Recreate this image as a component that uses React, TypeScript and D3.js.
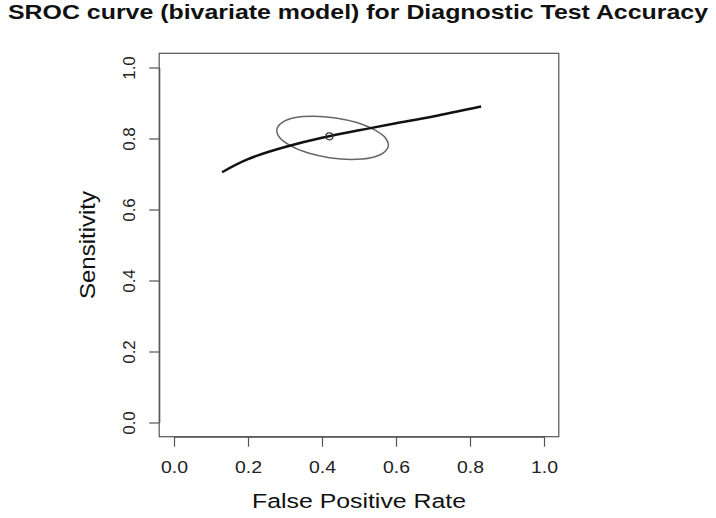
import React, { useEffect, useRef } from 'react';
import * as d3 from 'd3';

// SROC curve (false positive rate, sensitivity)
const curveFpr = [0.13, 0.2, 0.3, 0.4, 0.5, 0.6, 0.7, 0.83];
const curveSens = [0.705, 0.742, 0.776, 0.802, 0.823, 0.843, 0.862, 0.89];

// summary point
const summaryFpr = [0.42];
const summarySens = [0.806];

// confidence region outline
const regionFpr = [0.579, 0.565, 0.529, 0.479, 0.42, 0.363, 0.316, 0.286, 0.278, 0.292, 0.328, 0.378, 0.437, 0.494, 0.541, 0.571];
const regionSens = [0.778, 0.759, 0.745, 0.741, 0.746, 0.759, 0.779, 0.802, 0.826, 0.845, 0.859, 0.863, 0.858, 0.845, 0.825, 0.802];

const xTicks = [0, 0.2, 0.4, 0.6, 0.8, 1];
const yTicks = [0, 0.2, 0.4, 0.6, 0.8, 1];

const title = 'SROC curve (bivariate model) for Diagnostic Test Accuracy';
const xLabel = 'False Positive Rate';
const yLabel = 'Sensitivity';

const App = () => {
    const ref = useRef<SVGSVGElement>(null);

    useEffect(() => {
        const svg = d3.select(ref.current);
        svg.selectAll('*').remove();

        const font = '"Liberation Sans", Arial, sans-serif';
        const grey = '#555';

        const x = d3.scaleLinear().domain([0, 1]).range([174, 544]);
        const y = d3.scaleLinear().domain([0, 1]).range([422.5, 67.5]);

        // R-style 4% extension for the box
        const x0 = x(-0.04), x1 = x(1.04);
        const y0 = y(-0.04), y1 = y(1.04);

        svg.append('text')
            .attr('x', 358)
            .attr('y', 19)
            .attr('text-anchor', 'middle')
            .attr('font-family', font)
            .attr('font-weight', 'bold')
            .attr('font-size', 21)
            .attr('textLength', 700)
            .attr('lengthAdjust', 'spacingAndGlyphs')
            .attr('fill', '#111')
            .text(title);

        svg.append('rect')
            .attr('x', x0)
            .attr('y', y1)
            .attr('width', x1 - x0)
            .attr('height', y0 - y1)
            .attr('fill', 'none')
            .attr('stroke', grey)
            .attr('stroke-width', 1.2);

        const xAxis = svg.append('g')
            .attr('transform', `translate(0,${y0})`)
            .call(d3.axisBottom(x).tickValues(xTicks).tickSize(10).tickSizeOuter(0).tickFormat(d3.format('.1f')));
        xAxis.select('.domain').attr('stroke', grey).attr('stroke-width', 1.2);
        xAxis.selectAll('line').attr('stroke', grey).attr('stroke-width', 1.2);
        xAxis.selectAll('text')
            .attr('y', 36)
            .attr('dy', 0)
            .attr('font-family', font)
            .attr('font-size', 17)
            .attr('textLength', 27)
            .attr('lengthAdjust', 'spacingAndGlyphs')
            .attr('fill', '#222');

        const yAxis = svg.append('g')
            .attr('transform', `translate(${x0},0)`)
            .call(d3.axisLeft(y).tickValues(yTicks).tickSize(10).tickSizeOuter(0).tickFormat(d3.format('.1f')));
        yAxis.select('.domain').attr('stroke', grey).attr('stroke-width', 1.2);
        yAxis.selectAll('line').attr('stroke', grey).attr('stroke-width', 1.2);
        yAxis.selectAll('text')
            .attr('transform', 'rotate(-90)')
            .attr('x', 0)
            .attr('y', -24)
            .attr('dy', 0)
            .attr('text-anchor', 'middle')
            .attr('font-family', font)
            .attr('font-size', 17)
            .attr('fill', '#222');

        svg.append('text')
            .attr('x', (x0 + x1) / 2)
            .attr('y', 508)
            .attr('text-anchor', 'middle')
            .attr('font-family', font)
            .attr('font-size', 20)
            .attr('textLength', 214)
            .attr('lengthAdjust', 'spacingAndGlyphs')
            .attr('fill', '#111')
            .text(xLabel);

        svg.append('text')
            .attr('transform', `translate(95,${(y0 + y1) / 2}) rotate(-90)`)
            .attr('text-anchor', 'middle')
            .attr('font-family', font)
            .attr('font-size', 22)
            .attr('textLength', 108)
            .attr('lengthAdjust', 'spacingAndGlyphs')
            .attr('fill', '#111')
            .text(yLabel);

        // confidence region
        const region = regionFpr.map((f, i) => [f, regionSens[i]] as [number, number]);
        svg.append('path')
            .attr('d', d3.line<[number, number]>()
                .x(d => x(d[0]))
                .y(d => y(d[1]))
                .curve(d3.curveCatmullRomClosed)(region))
            .attr('fill', 'none')
            .attr('stroke', '#666')
            .attr('stroke-width', 1.5);

        // SROC curve
        const curve = curveFpr.map((f, i) => [f, curveSens[i]] as [number, number]);
        svg.append('path')
            .attr('d', d3.line<[number, number]>()
                .x(d => x(d[0]))
                .y(d => y(d[1]))
                .curve(d3.curveNatural)(curve))
            .attr('fill', 'none')
            .attr('stroke', '#111')
            .attr('stroke-width', 2.5);

        svg.selectAll('.summary')
            .data(summaryFpr.map((f, i) => [f, summarySens[i]]))
            .enter().append('circle')
            .attr('class', 'summary')
            .attr('cx', d => x(d[0]))
            .attr('cy', d => y(d[1]))
            .attr('r', 3.5)
            .attr('fill', 'none')
            .attr('stroke', '#333')
            .attr('stroke-width', 1.2);
    }, []);

    return (
        <svg ref={ref} width={716} height={518}
            style={{ position: 'absolute', left: 0, top: 0, background: '#fff' }} />
    );
};

export default App;
